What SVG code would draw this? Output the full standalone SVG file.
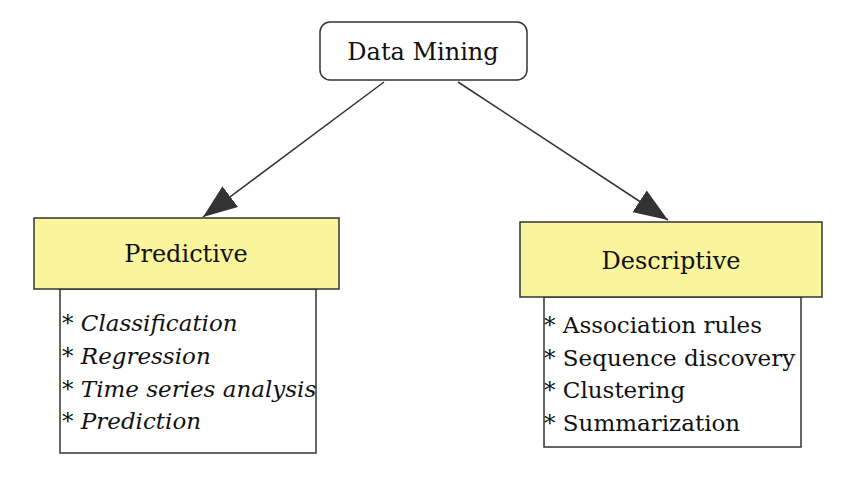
<svg xmlns="http://www.w3.org/2000/svg" width="850" height="494" viewBox="0 0 850 494">
<style>
text{font-family:"DejaVu Serif","Liberation Serif",serif;fill:#111}
.t{font-size:24px;text-anchor:middle}
.l{font-size:23px}
.i{font-style:italic}
.hd{fill:#faf59c;stroke:#333;stroke-width:1.5}
.bd{fill:#fff;stroke:#333;stroke-width:1.5}
</style>
<defs><marker id="a" markerWidth="12" markerHeight="10" refX="12" refY="5" orient="auto" markerUnits="userSpaceOnUse" viewBox="0 0 12 10"><path d="M0,0 L12,5 L0,10z" fill="#333"/></marker>
<marker id="b" markerWidth="34" markerHeight="26" refX="34" refY="13" orient="auto" markerUnits="userSpaceOnUse"><path d="M0,0 L34,13 L0,26z" fill="#333"/></marker></defs>
<rect width="850" height="494" fill="#fff"/>
<g id="connectors" stroke="#333" stroke-width="1.5">
<line x1="384" y1="82" x2="203" y2="217" marker-end="url(#b)"/>
<line x1="458" y1="82" x2="668" y2="220" marker-end="url(#b)"/>
</g>
<g id="datamining"><rect x="320" y="22" width="207" height="58" rx="10" fill="#fff" stroke="#333" stroke-width="1.5"/><text class="t" x="423" y="60">Data Mining</text></g>
<g id="predictive">
<rect class="bd" x="60" y="289" width="256" height="164"/>
<rect class="hd" x="34" y="218" width="305" height="71"/>
<text class="t" x="186" y="262">Predictive</text>
<text class="l" x="62" y="331">* <tspan class="i">Classification</tspan></text>
<text class="l" x="62" y="364">* <tspan class="i">Regression</tspan></text>
<text class="l" x="62" y="397">* <tspan class="i">Time series analysis</tspan></text>
<text class="l" x="62" y="429">* <tspan class="i">Prediction</tspan></text>
</g>
<g id="descriptive">
<rect class="bd" x="544" y="297" width="257" height="150"/>
<rect class="hd" x="520" y="222" width="302" height="75"/>
<text class="t" x="671" y="269">Descriptive</text>
<text class="l" x="544" y="333">* Association rules</text>
<text class="l" x="544" y="366">* Sequence discovery</text>
<text class="l" x="544" y="398">* Clustering</text>
<text class="l" x="544" y="431">* Summarization</text>
</g>
</svg>
